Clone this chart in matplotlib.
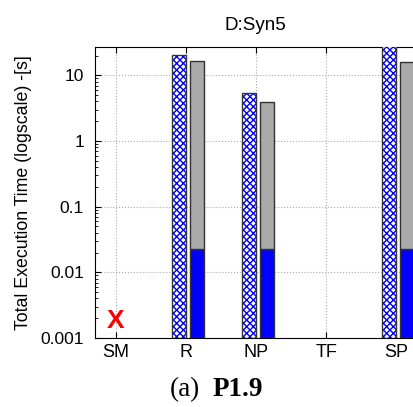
import matplotlib.pyplot as plt
import numpy as np

# categories and measured times (seconds)
methods = ['SM', 'R', 'NP', 'TF', 'SP']
total_time = [np.nan, 20.1, 5.4, np.nan, 40.0]      # hatched bars
other_time = [np.nan, 16.3, 3.9, np.nan, 15.7]      # stacked bar, grey part (top)
base_time = [np.nan, 0.023, 0.023, np.nan, 0.023]   # stacked bar, blue part
failed = ['SM']                                     # marked with a red X

plt.rcParams['font.family'] = ['Liberation Sans', 'DejaVu Sans']
plt.rcParams['hatch.linewidth'] = 1.0

fig = plt.figure(figsize=(4.13, 4.07), dpi=100)
ax = fig.add_axes([0.23, 0.1695, 0.775, 0.715])

x = np.arange(len(methods))
w = 0.2
ymin = 0.001

# hatched bar: fill pattern in blue, outline in dark grey
ax.bar(x - w / 2, np.array(total_time) - ymin, w, bottom=ymin, color='white',
       edgecolor='blue', hatch='xxxxx', linewidth=0, zorder=3)
ax.bar(x - w / 2, np.array(total_time) - ymin, w, bottom=ymin, fill=False,
       edgecolor='#333333', linewidth=1.0, zorder=4)

# stacked bar: blue base + grey remainder
ax.bar(x + 0.05 + w / 2, np.array(base_time) - ymin, w, bottom=ymin, color='blue',
       edgecolor='#333333', linewidth=1.0, zorder=3)
ax.bar(x + 0.05 + w / 2, np.array(other_time) - np.array(base_time), w,
       bottom=base_time, color='#aaaaaa', edgecolor='#333333', linewidth=1.0, zorder=3)

for m in failed:
    i = methods.index(m)
    ax.text(x[i], 0.0018, 'X', color='red', fontweight='bold', fontsize=19,
            ha='center', va='center', zorder=5)

ax.set_yscale('log')
ax.set_ylim(ymin, 27)
ax.set_xlim(-0.3, 4.27)
ax.set_xticks(x)
ax.set_xticklabels(methods, fontsize=13)
ax.set_yticks([0.001, 0.01, 0.1, 1, 10])
ax.set_yticklabels(['0.001', '0.01', '0.1', '1', '10'], fontsize=12.5)
ax.tick_params(axis='both', which='both', direction='in', top=True)
ax.tick_params(axis='x', which='major', length=4, pad=4)
ax.tick_params(axis='y', which='major', length=4, pad=8)
ax.tick_params(axis='y', which='minor', length=2)
ax.grid(True, which='major', linestyle=':', color='#aaaaaa', linewidth=0.8, zorder=0)
ax.set_axisbelow(True)

ax.set_ylabel('Total Execution Time (logscale) -[s]', fontsize=12.8, labelpad=6)
ax.set_title('D:Syn5', fontsize=13.5, pad=12)

fig.text(0.485, 0.042, '(a)', fontsize=19.5, family='Liberation Serif',
         ha='right', va='center')
fig.text(0.515, 0.042, 'P1.9', fontsize=19.5, family='Liberation Serif',
         fontweight='bold', ha='left', va='center')

fig.savefig('out.png', dpi=100)
